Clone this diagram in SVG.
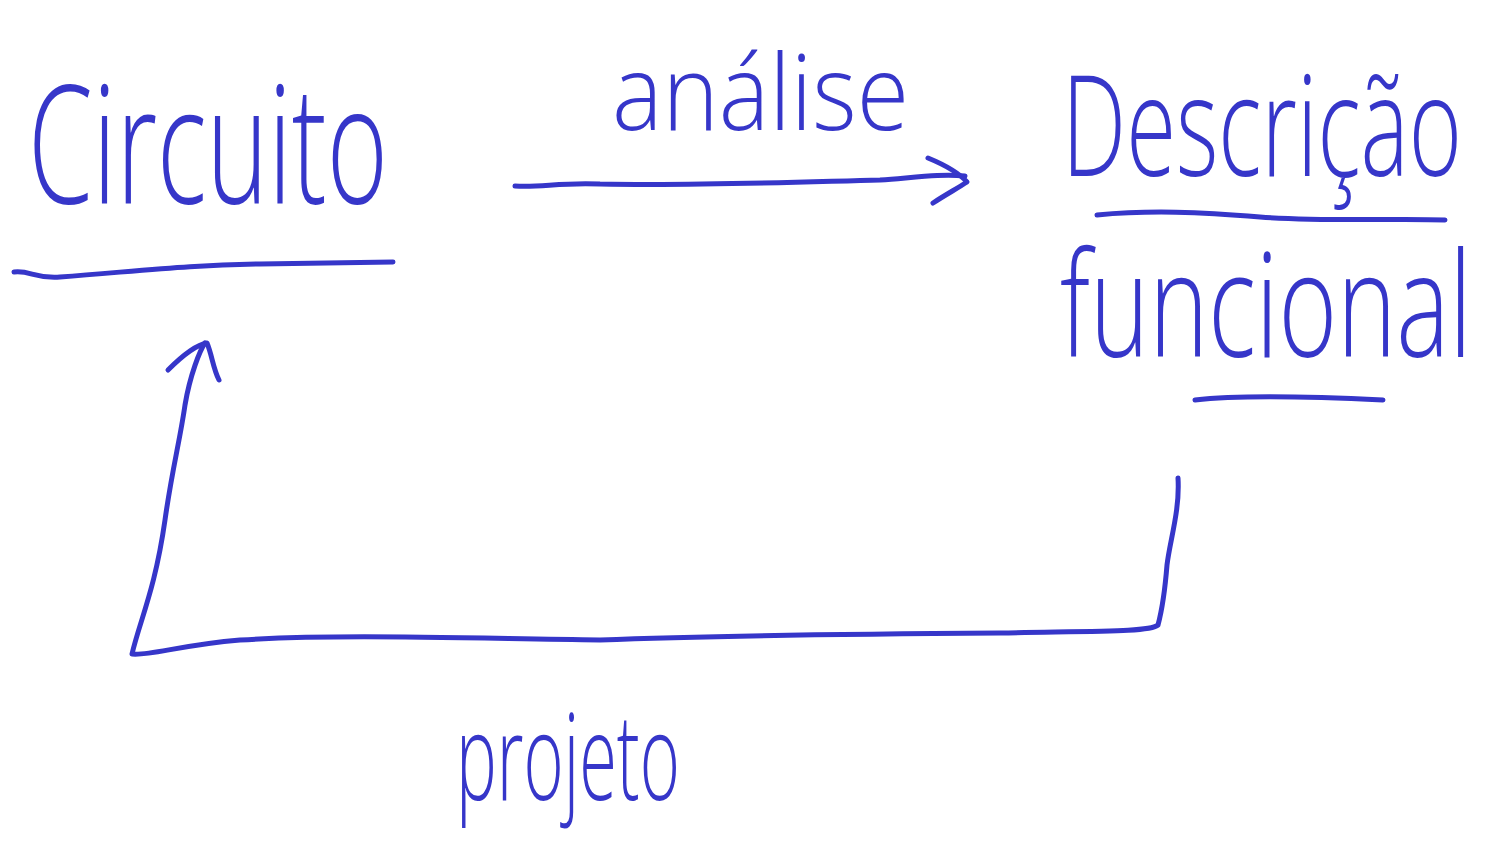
<svg xmlns="http://www.w3.org/2000/svg" width="1499" height="864" viewBox="0 0 1499 864">
  <style>
    .ink { fill: none; stroke: #3636c9; stroke-width: 5; stroke-linecap: round; stroke-linejoin: round; }
    .hand { fill: #3636c9; font-family: "Open Sans", "Liberation Sans", sans-serif; font-weight: 300; }
  </style>
  <rect width="1499" height="864" fill="#ffffff"/>

  <g id="node-circuito">
    <text class="hand" x="28" y="203" font-size="165" textLength="360" lengthAdjust="spacingAndGlyphs">Circuito</text>
    <path class="ink" d="M14 272 C30 270 35 279 60 277 C150 270 190 265 260 264 L393 262"/>
  </g>

  <g id="node-descricao">
    <!-- tall, narrow lettering: small font stretched vertically -->
    <text class="hand" transform="translate(1062 176) scale(1 1.54)" x="0" y="0" font-size="91" textLength="400" lengthAdjust="spacingAndGlyphs">Descrição</text>
    <path class="ink" d="M1097 215 C1150 210 1200 212 1260 217 C1330 222 1400 218 1445 220"/>
    <text class="hand" transform="translate(1060 357) scale(1 1.45)" x="0" y="0" font-size="100" textLength="412" lengthAdjust="spacingAndGlyphs">funcional</text>
    <path class="ink" d="M1195 400 C1230 396 1300 396 1383 400"/>
  </g>

  <g id="connectors">
    <!-- análise: top arrow -->
    <path class="ink" d="M515 186 C540 188 560 182 600 184 C700 186 800 182 880 180 C920 177 940 174 965 176"/>
    <path class="ink" d="M928 158 C945 165 958 172 967 182 C958 188 945 195 933 203"/>
    <!-- projeto: return loop -->
    <path class="ink" d="M1178 478 C1180 510 1170 540 1167 565 C1165 590 1162 610 1158 625 C1150 632 1100 631 1000 633 C850 634 700 636 600 640 C450 638 340 634 240 640 C180 645 150 656 132 654 C140 620 155 590 165 520 C172 470 180 440 185 405 C190 375 200 350 205 343"/>
    <path class="ink" d="M168 370 C178 360 195 345 207 343 C212 355 213 368 219 380"/>
    <text class="hand" x="612" y="130" font-size="105" textLength="297" lengthAdjust="spacingAndGlyphs">análise</text>
    <text class="hand" x="456" y="800" font-size="120" textLength="224" lengthAdjust="spacingAndGlyphs">projeto</text>
  </g>
</svg>
